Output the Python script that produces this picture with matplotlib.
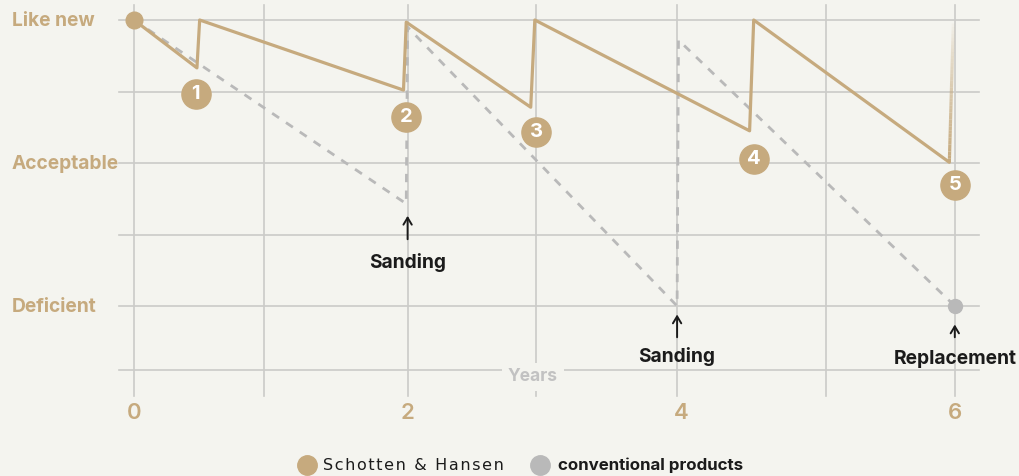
import numpy as np
import matplotlib
matplotlib.use("Agg")
import matplotlib.pyplot as plt
from matplotlib.collections import LineCollection

# Colores
TAN = "#c6aa7e"
GRIS = "#b9b9b9"
FONDO = "#f4f4ef"
GRILLA = "#cbcbc8"
NEGRO = "#1b1b1b"

# Datos (anios, estado: 4 = como nuevo, 2 = aceptable, 0 = deficiente)
anios_sh = [0, 0.46, 0.48, 1.97, 1.99, 2.90, 2.93, 4.50, 4.53, 5.96, 5.99]
estado_sh = [4.0, 3.33, 4.0, 3.02, 3.97, 2.78, 4.0, 2.45, 4.0, 2.01, 4.0]

anios_conv = [0, 1.99, 2.0, 3.97, 3.98, 6.0]
estado_conv = [4.0, 1.43, 3.9, 0.0, 3.72, 0.0]

# Marcadores numerados (posicion en anios, estado)
num_x = [0.45, 1.99, 2.94, 4.53, 6.0]
num_y = [2.965, 2.65, 2.44, 2.06, 1.69]
num_txt = ["1", "2", "3", "4", "5"]

niveles_y = [4, 3, 2, 1, 0, -0.9]
etiquetas_y = {4: "Like new", 2: "Acceptable", 0: "Deficient"}
grilla_x = [0, 0.95, 2.0, 2.94, 3.97, 5.06, 6.0]
ticks_x = [0, 2, 4, 6]

eventos_x = [2.0, 3.97, 6.0]
eventos_txt = ["Sanding", "Sanding", "Replacement"]

plt.rcParams['font.family'] = ['Inter', 'DejaVu Sans']

fig = plt.figure(figsize=(10.2, 4.76), dpi=100, facecolor=FONDO)
ax = fig.add_axes([0, 0, 1, 1])
ax.set_facecolor(FONDO)
# 1 anio = 136.8 px, y: 71.5 px por nivel
ax.set_xlim(-134 / 136.8, (1020 - 134) / 136.8)
ax.set_ylim((306 - 476) / 71.5, 306 / 71.5)
ax.axis("off")

# grilla
for yy in niveles_y:
    ax.plot([-0.11, 6.18], [yy, yy], color=GRILLA, lw=1.2, zorder=1)
for xx in grilla_x:
    ax.plot([xx, xx], [4.21, -1.26], color=GRILLA, lw=1.2, zorder=1)

# etiquetas eje y
for yy, txt in etiquetas_y.items():
    ax.text(-0.892, yy - 0.02, txt, color=TAN, fontsize=13.8, fontweight="bold",
            ha="left", va="center", zorder=3)

# ticks eje x
for xx in ticks_x:
    ax.text(xx, -1.497, str(xx), color=TAN, fontsize=16, ha="center",
            va="center", fontweight="semibold", zorder=3)

ax.text(2.917, -0.99, "Years", color="#c2c2c2", fontsize=12.5, fontweight="bold",
        ha="center", va="center", zorder=3,
        bbox=dict(facecolor=FONDO, edgecolor="none", pad=4))

# serie convencional
ax.plot(anios_conv, estado_conv, color=GRIS, lw=2, ls=(0, (3, 3)), zorder=2)
ax.plot(anios_conv[-1], estado_conv[-1], "o", color=GRIS, ms=10, zorder=4)

# serie Schotten & Hansen (el ultimo tramo se desvanece)
ax.plot(anios_sh[:-1], estado_sh[:-1], color=TAN, lw=2.3, zorder=3,
        solid_joinstyle="round", solid_capstyle="round")
n = 40
yy = np.linspace(estado_sh[-2], estado_sh[-1], n + 1)
xx = np.linspace(anios_sh[-2], anios_sh[-1], n + 1)
segs = [[(xx[i], yy[i]), (xx[i + 1], yy[i + 1])] for i in range(n)]
alphas = np.linspace(1, 0.0, n) ** 0.8
cols = [matplotlib.colors.to_rgba(TAN, a) for a in alphas]
ax.add_collection(LineCollection(segs, colors=cols, linewidths=2.3, zorder=3))
ax.plot(anios_sh[0], estado_sh[0], "o", color=TAN, ms=12, zorder=4)

# circulos numerados
for x0, y0, t in zip(num_x, num_y, num_txt):
    ax.plot(x0, y0, "o", color=TAN, ms=21, zorder=5)
    ax.text(x0, y0, t, color="white", fontsize=14.5, fontweight="bold",
            ha="center", va="center", zorder=6)

# anotaciones
flechas = [(1.30, 0.895, 0.615), (-0.08, -0.476, -0.71), (-0.22, -0.476, -0.74)]
for x0, t, (punta, base, ytxt) in zip(eventos_x, eventos_txt, flechas):
    ax.annotate("", xy=(x0, punta), xytext=(x0, base),
                arrowprops=dict(arrowstyle="->,head_length=0.5,head_width=0.3",
                                color=NEGRO, lw=1.4), zorder=6)
    ax.text(x0, ytxt, t, color=NEGRO, fontsize=13.8, fontweight="bold",
            ha="center", va="center", zorder=6)

# leyenda
ax.plot(1.265, -2.224, "o", color=TAN, ms=14)
ax.text(1.382, -2.224, "\u200a".join("Schotten & Hansen"), color=NEGRO, fontsize=11.5,
        fontweight="medium", ha="left", va="center", family=["DejaVu Sans"])
ax.plot(2.968, -2.224, "o", color=GRIS, ms=14)
ax.text(3.099, -2.224, "conventional products", color=NEGRO, fontsize=12.2,
        fontweight="bold", ha="left", va="center")

fig.savefig("out.png", dpi=100, facecolor=FONDO)
